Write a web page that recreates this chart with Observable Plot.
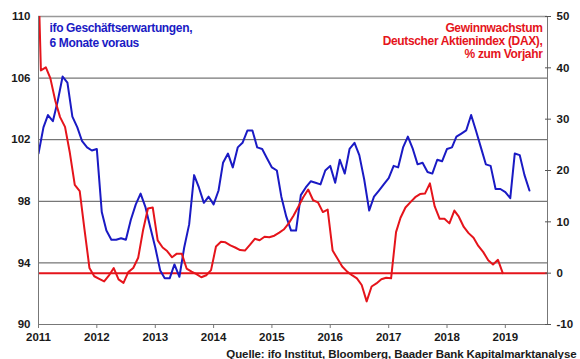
<!DOCTYPE html>
<html><head><meta charset="utf-8">
<script src="https://cdn.jsdelivr.net/npm/d3@7"></script>
<script src="https://cdn.jsdelivr.net/npm/@observablehq/plot@0.6"></script>
<style>
body{margin:0;background:#fff;}
#chart svg g[aria-label="text"] text{letter-spacing:-0.35px;}
</style></head><body><div id="chart"></div>
<script>
// ifo Geschäftserwartungen (6 Monate voraus), monthly from Jan 2011
const ifoValues = [101.1, 102.8, 103.6, 103.2, 104.5, 106.1, 105.7, 103.5, 102.8, 101.9,
  101.5, 101.3, 101.4, 97.3, 96.1, 95.5, 95.5, 95.6, 95.5, 96.8,
  97.8, 98.5, 97.6, 96.3, 95.0, 93.5, 93.0, 93.0, 93.9, 93.1,
  95.0, 96.5, 99.7, 98.9, 97.9, 98.3, 97.8, 98.7, 100.5, 101.1,
  100.2, 101.5, 101.8, 102.6, 102.6, 101.5, 101.4, 100.8, 100.2, 100.0,
  98.3, 97.0, 96.1, 96.1, 98.4, 98.9, 99.3, 99.2, 99.1, 100.0,
  100.3, 99.2, 100.7, 99.8, 101.4, 101.8, 101.0, 99.4, 97.4, 98.3,
  98.7, 99.1, 99.5, 100.3, 100.2, 101.5, 102.2, 101.4, 100.4, 100.5,
  99.9, 99.8, 100.7, 100.6, 101.4, 101.5, 102.2, 102.4, 102.6, 103.6,
  102.6, 101.5, 100.4, 100.3, 98.8, 98.8, 98.6, 98.2, 101.1, 101.0,
  99.7, 98.7];
// DAX Gewinnwachstum, % zum Vorjahr, mid-month from Dec 2010
const daxValues = [75, 39.5, 40.1, 38.0, 33.6, 30.4, 28.5, 23.5, 17.2, 16.0, 8.5,
  1.0, -0.6, -1.1, -1.6, -0.5, 1.0, -1.2, -1.9, 0.2, 1.0,
  3.0, 8.3, 12.6, 12.8, 6.4, 5.0, 4.3, 3.1, 3.8, 3.8,
  0.9, 0.3, -0.2, -0.8, -0.4, 0.6, 5.2, 6.1, 6.0, 5.4,
  5.0, 4.5, 4.4, 5.5, 6.7, 6.4, 7.1, 7.0, 7.3, 7.9,
  8.5, 9.7, 11.2, 13.0, 14.8, 16.3, 14.2, 13.8, 11.9, 12.4,
  4.4, 2.8, 1.3, 0.3, -0.4, -1.0, -2.3, -5.5, -2.6, -2.0,
  -1.2, -0.9, -1.0, 8.0, 10.8, 12.8, 13.8, 14.8, 15.4, 15.5,
  17.5, 13.0, 10.6, 10.6, 9.7, 12.2, 11.0, 9.0, 7.8, 6.9,
  5.3, 4.1, 2.5, 1.7, 2.6, 0.0];
const leftTicks = [90, 94, 98, 102, 106, 110];
const rightTicks = [-10, 0, 10, 20, 30, 40, 50];
const yearTicks = [2011, 2012, 2013, 2014, 2015, 2016, 2017, 2018, 2019];
const blueTitle = "ifo Geschäftserwartungen,\n6 Monate voraus";
const redTitle = "Gewinnwachstum\nDeutscher Aktienindex (DAX),\n% zum Vorjahr";
const caption = "Quelle: ifo Institut, Bloomberg, Baader Bank Kapitalmarktanalyse";

const BLUE = "#1a1ac4", RED = "#e5141b";
const toLeft = r => 90 + (r + 10) / 3;
const fromLeft = v => String(Math.round((v - 90) * 3 - 10) || 0);

const ifo = ifoValues.map((v, i) => ({date: new Date(Date.UTC(2011, i, 1)), v}));
const dax = daxValues.map((v, i) => ({date: new Date(Date.UTC(2010, 11 + i, 16)), v}));
const x0 = new Date(Date.UTC(2011, 0, 1)), x1 = new Date(Date.UTC(2019, 8, 22));

const chart = Plot.plot({
  width: 580, height: 359,
  marginLeft: 38, marginRight: 33, marginTop: 16, marginBottom: 35,
  style: {fontFamily: "'Liberation Sans', Arial, sans-serif", fontWeight: "bold", color: "#1a1a1a", background: "#fff"},
  x: {type: "utc", domain: [x0, x1]},
  y: {domain: [90, 110]},
  marks: [
    Plot.ruleY(leftTicks.filter(d => d > 90 && d < 110), {stroke: "#555", strokeWidth: 1}),
    Plot.ruleY([110], {stroke: "#999", strokeWidth: 1.5}),
    Plot.ruleY([toLeft(0)], {stroke: RED, strokeWidth: 2}),
    Plot.line(ifo, {x: "date", y: "v", stroke: BLUE, strokeWidth: 2, clip: true}),
    Plot.line(dax, {x: "date", y: d => toLeft(d.v), stroke: RED, strokeWidth: 2, clip: true}),
    Plot.ruleX([x0], {stroke: "#777", strokeWidth: 1}),
    Plot.ruleX([x1], {stroke: "#777", strokeWidth: 1}),
    Plot.ruleY([90], {stroke: "#777", strokeWidth: 1}),
    Plot.axisX({ticks: yearTicks.map(y => new Date(Date.UTC(y, 0, 1))), tickFormat: d => String(d.getUTCFullYear()),
      tickSize: 4, tickPadding: 4, fontSize: 11.5, fontWeight: "bold", stroke: "#777", label: null}),
    Plot.axisY({anchor: "left", ticks: leftTicks, tickSize: 0, tickPadding: 8, fontSize: 11.5, fontWeight: "bold", label: null}),
    Plot.axisY({anchor: "right", ticks: rightTicks.map(toLeft), tickSize: 6, dx: -3, tickFormat: () => "", stroke: "#555", label: null}),
    Plot.axisY({anchor: "right", ticks: rightTicks.map(toLeft), tickSize: 0, tickPadding: 9, tickFormat: fromLeft, fontSize: 11.5, fontWeight: "bold", label: null}),
    Plot.text([blueTitle], {frameAnchor: "top-left", text: d => d, dx: 11, dy: 6, textAnchor: "start", lineAnchor: "top", lineHeight: 1.17, fill: BLUE, fontSize: 12, fontWeight: "bold"}),
    Plot.text([redTitle], {frameAnchor: "top-right", text: d => d, dx: -5, dy: 6, textAnchor: "end", lineAnchor: "top", lineHeight: 1.08, fill: RED, fontSize: 12, fontWeight: "bold"}),
    Plot.text([caption], {frameAnchor: "bottom-right", text: d => d, dx: 29, dy: 33, textAnchor: "end", lineAnchor: "bottom", fill: "#1a1a1a", fontSize: 11.5, fontWeight: "bold"})
  ]
});
d3.select(chart).selectAll("text").filter(function() { return this.textContent === caption; })
  .style("letter-spacing", "-0.1px");
document.getElementById("chart").append(chart);
</script></body></html>
